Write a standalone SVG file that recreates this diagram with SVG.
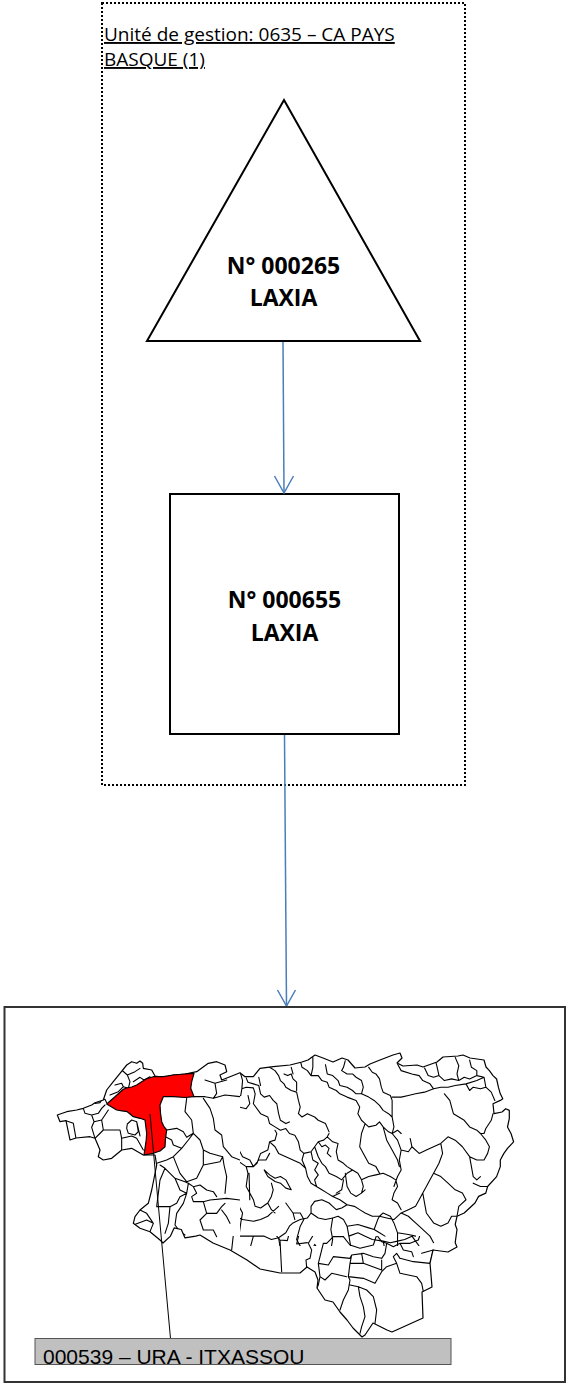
<svg xmlns="http://www.w3.org/2000/svg" width="569" height="1386" viewBox="0 0 569 1386">
<style>
.title{font-family:"Open Sans","Liberation Sans",sans-serif;font-size:19px;fill:#000;text-decoration:underline}
.nt{font-family:"Open Sans","Liberation Sans",sans-serif;font-size:23px;font-weight:bold;fill:#000;text-anchor:middle}
.shape{fill:#fff;stroke:#000;stroke-width:2}
.conn{stroke:#4a7ebb;stroke-width:1.5;fill:none}
.ml{fill:none;stroke:#000;stroke-width:1.1;stroke-linejoin:round;stroke-linecap:round}
.lbl{font-family:"Liberation Sans",Arial,sans-serif;font-size:21px;fill:#000}
</style>
<defs>
<clipPath id="mapclip"><path id="outlineShape" d="M57.3,1115 L66.7,1111.7 L76.7,1110 L83.3,1108.3 L91.7,1105 L95,1102.7 L103.3,1100 L106.7,1090 L113.3,1081.7 L120,1073.3 L126.7,1065 L131.7,1061.7 L136.7,1063.3 L140,1061 L142.7,1063.3 L143.3,1068.3 L151.7,1070 L155,1076 L163.3,1077.3 L173.3,1075 L185,1074 L196.7,1071.7 L208.3,1063.3 L216.7,1061.7 L225,1065 L226.7,1071.7 L220,1075 L221.7,1080 L230,1076.7 L240,1072.7 L245,1076.7 L253.3,1076.7 L260,1068.3 L273.3,1066.7 L290,1065 L302,1062 L308,1060 L315,1055 L323,1058 L333,1062 L342,1058 L348,1060 L355,1068 L365,1067 L370,1064 L380,1060 L393,1055 L400,1053 L402,1058 L397,1063 L403,1066 L417,1065 L423,1067 L437,1062 L443,1057 L458,1056 L463,1055 L470,1058 L484,1060 L486,1067 L489.4,1070.6 L493,1075.6 L496.6,1079 L498.4,1087.2 L500.3,1093.8 L502.8,1098.8 L500.3,1100.4 L493,1103.7 L494,1113.7 L502,1112 L505.7,1108.7 L509.3,1110.4 L509.3,1118.6 L507.5,1127 L511,1133.5 L513.6,1141.8 L507.5,1148.4 L503.9,1153.4 L500.3,1160 L500.3,1166.6 L496.6,1176.6 L487.6,1186.5 L485.8,1193.1 L478.6,1196.4 L475,1203 L469.6,1208 L464.2,1213 L457,1216.3 L455.2,1224.5 L457,1229.5 L455.2,1242.7 L457,1247 L448,1252 L433,1250 L430,1263 L432,1287 L422,1292 L423,1318 L392,1332 L387,1330 L373,1323 L365,1335 L362,1337 L358,1333 L353,1328 L347,1320 L340,1312 L333,1302 L325,1300 L317,1288 L318,1280 L315,1272 L307,1267 L300,1273 L280,1273 L260,1269 L247,1260 L230,1250 L213,1243 L200,1235 L195.7,1236.1 L184.9,1237.8 L181.3,1229.5 L174.1,1227.9 L170.5,1236.1 L163,1243 L160,1240 L150,1231.7 L140,1228.3 L133.3,1223.3 L135,1216.7 L140,1210 L148.3,1203.3 L151.7,1190 L156.7,1165 L155,1155 L143.3,1155 L131.7,1148.3 L121.7,1150 L111.7,1158.3 L103.3,1160 L98.3,1156.7 L100,1150 L95,1138.3 L90,1136.7 L76,1138 L70,1140 L66,1120.7 L60,1121.7 Z"/></clipPath>
<clipPath id="upper"><rect x="240" y="0" width="329" height="1246"/></clipPath>
<clipPath id="lower"><rect x="0" y="1236" width="569" height="150"/></clipPath>
<clipPath id="west"><rect x="0" y="1000" width="240" height="246"/></clipPath>
</defs>
<rect x="0" y="0" width="569" height="1386" fill="#fff"/>

<g id="container">
<rect x="102" y="3" width="363" height="782" fill="none" stroke="#000" stroke-width="2" stroke-dasharray="2,2"/>
<text class="title" x="104" y="41">Unité de gestion: 0635 – CA PAYS</text>
<text class="title" x="104" y="66">BASQUE (1)</text>
</g>

<g id="node-000265">
<polygon class="shape" points="284,100 420,341 147,341"/>
<text class="nt" x="283.5" y="274">N° 000265</text>
<text class="nt" x="283.5" y="306">LAXIA</text>
</g>

<g id="node-000655">
<rect class="shape" x="170" y="494" width="229" height="240"/>
<text class="nt" x="284.5" y="608">N° 000655</text>
<text class="nt" x="284.5" y="641">LAXIA</text>
</g>

<g id="connectors">
<line class="conn" x1="283" y1="342" x2="284" y2="493"/>
<polyline class="conn" points="274.5,476 284,493 293.5,476"/>
<line class="conn" x1="284.5" y1="735" x2="286.5" y2="1006"/>
<polyline class="conn" points="277.5,990 286.5,1006 295.5,990"/>
</g>

<g id="node-map">
<rect x="4.5" y="1007" width="560.5" height="375" fill="#fff" stroke="#333" stroke-width="2"/>
<use href="#outlineShape" fill="#fff" stroke="none"/>
<g clip-path="url(#mapclip)">
<g clip-path="url(#upper)">
<g transform="matrix(0.3604 0 0 0.331 1.1 961.4)">
<path class="ml" vector-effect="non-scaling-stroke" d="
M538,340 L545,350 L560,360 L580,362 L590,372 L590,385 L585,405 L570,410 L535,412
M590,345 L605,350 L620,340 L630,345 L650,338 L665,340 L670,360 L668,385 L665,405 L640,410 L610,415 L590,412
M600,305 L595,330 L590,345
M668,385 L680,380 L700,382 L705,400 L700,430
M680,352 L685,365 L700,370 L715,375 L720,400 L730,410 L745,405 L755,420 L765,430
M715,350 L720,375
M650,420 L660,440 L680,445 L690,430 L685,405
M565,420 L580,445 L590,465 L600,490 L610,520 L615,560 L640,580 L660,570 L670,590 L690,600 L700,620 L710,610 L720,580 L740,570 L745,545 L760,540 L765,520 L760,510
M700,430 L720,460 L740,470 L745,490 L760,500 L775,510 L790,505 L800,520 L815,525 L825,545 L830,570 L840,580 L860,575 L870,560 L880,545 L895,540 L905,530 L910,520
M765,430 L770,460 L775,480 L790,490 L800,485
M745,320 L760,330 L770,345 L775,360 L785,370 L790,380 L805,390 L820,395 L825,420 L830,440 L825,460 L835,470 L850,460 L870,470 L880,480 L900,490 L910,515
M785,340 L795,345 L805,340 L810,355 L820,365 L820,390
M805,320 L810,340
M830,300 L835,320 L850,330 L860,345 L880,345 L890,360 L905,365 L910,380 L930,390 L940,400 L960,410 L985,420 L995,440 L990,460 L1000,480 L1010,490 L1020,500 L1040,495 L1050,485 L1060,500 L1075,515 L1085,520 L1100,510 L1110,520
M865,290 L865,320 L860,345
M900,312 L905,340 L920,345 L935,360 L940,375 L960,380 L975,390 L985,400 L1000,400 L1020,410 L1035,420 L1050,435 L1060,450 L1075,460 L1085,470 L1090,500 L1085,520
M955,300 L950,320 L945,330 L960,340 L975,340 L985,350 L1000,360 L1005,380 L1000,400
M1020,320 L1030,335 L1040,340 L1050,355 L1055,380 L1060,395 L1080,405 L1085,420 L1085,470
M1100,310 L1110,330 L1140,340 L1160,345 L1170,360 L1190,370 L1200,385
M1175,322 L1185,345 L1200,350 L1215,345 L1230,360 L1250,355 L1270,360 L1285,350 L1300,355 L1310,350 L1320,345
M1205,298 L1210,320 L1215,345
M1260,290 L1270,315 L1265,340 L1270,360
M1300,298 L1305,320 L1320,330 L1320,345 L1340,350 L1345,380 L1360,395 L1370,420
M1085,410 L1110,410 L1130,405 L1150,400 L1175,395 L1200,385 L1220,380 L1240,380 L1260,375 L1290,370 L1320,360 L1340,350
M1230,400 L1245,420 L1250,440 L1255,460 L1270,470 L1285,480 L1300,500 L1320,510 L1330,520 L1340,520 L1345,505 L1360,480 L1365,460
M1290,370 L1300,390 L1310,380 L1330,385 L1345,380
M1085,520 L1100,540 L1110,570 L1130,575 L1140,560 L1160,580 L1180,570 L1200,560 L1220,550 L1230,540 L1240,530 L1260,540 L1280,560 L1300,590 L1320,600 L1340,600 L1350,580 L1355,560 L1345,540 L1330,520
M1110,570 L1105,600 L1110,630 L1100,650 L1090,680
M1135,535 L1140,560
M1220,550 L1225,580 L1215,610 L1200,640 L1190,660 L1180,680 L1170,700 L1160,720
M1300,590 L1305,620 L1310,650 L1320,660 L1330,650
M1350,680 L1330,680 L1310,670
M1200,640 L1220,650 L1240,670 L1260,690 L1280,700 L1290,720 L1270,740 L1265,770
M1170,700 L1175,730 L1180,760 L1200,790 L1220,800 L1240,790 L1250,770 L1265,770
M1160,720 L1150,740 L1130,750 L1110,760 L1090,780 L1070,775 L1050,770
M610,580 L630,600 L660,605 L680,620 L685,640 L680,680 L690,700 L700,720 L705,740 L720,745 L740,730 L750,710 L755,690 L750,670
M680,620 L700,620 L715,600 L735,600 L745,580
M745,545 L760,560 L770,580 L790,590 L810,600 L830,610 L845,625 L850,650 L860,670 L875,680 L890,690 L905,700 L920,710 L940,700
M730,630 L745,645 L760,655 L775,650 L790,660 L800,680 L805,690 L790,685 L775,670 L760,665 L740,650 Z
M688,640 L690,720
M840,580 L835,600 L845,625
M870,560 L880,590 L890,610 L900,620 L910,640 L930,650 L945,660 L960,640 L975,630 L990,640 L1000,660 L1005,680 L1000,700
M905,530 L920,545 L935,550 L930,575 L935,600 L950,610 L960,620 L975,630
M880,545 L890,560 L900,555 L910,565 L905,580 L915,590
M860,575 L865,600 L880,610 L870,630 L880,645 L870,660 L875,680
M1000,660 L1020,650 L1040,645 L1060,640 L1080,650 L1095,660 L1100,680 L1090,700 L1085,720 L1100,730 L1110,750
M1010,490 L1000,520 L995,560 L1010,590 L1020,610 L1040,620 L1050,640
M1060,500 L1070,540 L1085,570 L1100,600 L1105,620
M955,640 L960,680 L970,700 L985,710
M920,710 L940,720 L960,735 L980,740 L995,750 L1010,760 L1030,770 L1050,770 L1060,760 L1080,770
M950,660 L945,690 L930,700
M985,710 L1000,700 L1010,690
M500,680 L520,690 L540,680 L555,670 L570,680 L580,700 L600,710 L620,720 L640,730 L660,740 L670,760 L665,790 L660,830 L655,860 L640,870
M530,700 L540,720 L545,700 L560,690
M520,720 L540,720 L560,730 L570,760 L580,800 L575,840 L580,855
M490,800 L520,795 L540,790 L570,780
M600,710 L610,690 L620,670 L615,650 L605,640 L590,620
M620,720 L625,750 L620,760 L640,770 L660,775 L670,780 L700,785 L720,780 L740,770 L750,760 L760,750 L770,740
M740,730 L750,750 L760,760
M660,830 L700,830 L730,830 L750,840 L770,835 L790,820 L800,800 L810,790 L830,780 L850,775
M770,835 L775,870 L780,900 L770,940
M700,830 L690,870 L680,895
M790,730 L800,745 L810,760 L830,760 L840,780 L830,800 L825,820 L820,840 L830,860 L845,870 L860,880 L860,900 L855,920 L860,945
M810,760 L815,780
M850,775 L860,760 L860,740 L870,725 L890,720 L910,730 L920,740 L930,750 L945,745 L960,735
M860,760 L880,775 L900,780 L920,775 L935,770 L950,780 L960,800 L965,830 L970,860
M920,775 L915,810 L920,840 L915,870 L900,880 L880,870 L870,855 L860,880
M880,870 L885,900 L880,920 L895,940 L910,930 L930,920 L950,915 L965,910 L975,900
M965,830 L990,820 L1010,830 L1030,840 L1060,845 L1080,850 L1100,845 L1120,840 L1140,830 L1150,845 L1160,860 L1170,870 L1190,880
M960,800 L990,795 L1020,805 L1035,810 L1050,820 L1065,830
M1035,810 L1045,780 L1050,770
M1080,770 L1090,790 L1100,820 L1100,845
M1100,820 L1130,825 L1150,830
M1110,760 L1130,770 L1150,790 L1160,800 L1175,815 L1190,830 L1200,850
M1100,870 L1110,900 L1130,915 L1150,925 L1160,940 L1170,960
M1100,845 L1100,900 L1105,930 L1110,960
M1000,870 L1020,880 L1040,900 L1060,920
M1060,845 L1065,870 L1060,900
"/>
</g>
</g>
<g clip-path="url(#west)">
<g transform="translate(40 1050) scale(0.33333)">
<path class="ml" vector-effect="non-scaling-stroke" d="
M78,212 L100,220 L108,265
M130,175 L135,190 L155,195 L162,215 L155,232 L165,265
M165,160 L180,158 L185,150 L195,148 L200,158
M155,195 L175,190 L185,175 L195,165
M162,215 L185,210 L195,195 L205,180
M185,210 L190,240 L240,240 L245,265 L245,300
M190,240 L175,255 L165,265
M210,135 L235,125 L250,110 L265,115
M225,105 L245,100 L250,110
M245,60 L262,75 L270,95 L265,115
M262,75 L285,65 L300,55
M280,95 L300,82 L312,90 L330,80
M262,222 L275,210 L290,215 L295,245 L285,255 L265,250 L260,235 Z
M245,265 L275,258 L290,265 L310,300
M290,215 L300,258
M462,140 L495,140 L520,145 L555,135 L600,140
M495,90 L525,100 L530,130 L520,145
M525,100 L560,90
M490,145 L510,175 L520,205 L525,240 L545,255 L550,290 L575,320
M440,145 L435,185 L455,210 L460,250
M380,240 L410,235 L430,245 L440,262 L460,250
M372,258 L395,270 L400,285 L425,295 L445,270 L460,250 L480,270 L490,300 L510,310 L548,320
M425,295 L400,320 L380,330 L350,340
M400,320 L420,370 L440,395 L470,385 L490,345 L490,300
M490,345 L540,335 L548,320
M548,320 L552,345 L560,380 L555,430
M575,320 L600,330
M360,345 L375,355 L405,385 L420,420 L440,430
M375,355 L360,390 L355,430 L350,470
M405,385 L435,395 L445,400 L440,430
M350,470 L390,470 L410,460 L420,440 L440,430
M390,470 L385,520 L375,550
M300,480 L320,490 L340,520 L330,545
M280,525 L320,510 L340,520
M445,400 L460,410 L470,430 L455,440 L460,455 L490,455 L510,450 L560,445 L600,450
M460,410 L480,405 L500,420 L520,425 L530,440
M490,455 L500,490 L480,510 L490,540 L520,540 L530,560
M440,430 L430,460 L410,490 L405,525 L420,545 L435,555
M500,490 L530,490 L545,470 L555,460
M545,480 L560,500 L570,520
"/>
</g>
</g>
<g clip-path="url(#lower)">
<g transform="translate(200 1230) scale(0.33333)">
<path class="ml" vector-effect="non-scaling-stroke" d="
M100,15 L95,60
M215,0 L240,30 L245,125
M240,30 L262,32 L270,0
M300,0 L290,42 L322,38
M320,112 L318,90 L330,85 L335,60 L325,40 L340,15 L330,0
M370,40 L380,40 L400,20 L405,0
M370,40 L355,100
M355,100 L385,105 L400,80 L450,85 L455,75 L490,70 L520,80 L545,85 L555,70 L560,40
M430,20 L450,45 L480,55 L520,45 L530,15 L520,0
M430,20 L400,20
M455,75 L450,100 L445,140 L450,150
M450,100 L490,100 L485,70
M490,100 L545,120 L545,90
M355,100 L360,140 L375,150 L395,130 L440,140
M360,140 L355,165 L350,175
M445,140 L490,145 L525,160 L545,125
M450,150 L445,180 L430,210 L420,240
M450,165 L475,170 L500,180 L520,200 L530,240 L525,280
M475,170 L480,200 L490,230 L495,260 L485,290 L480,310
M545,125 L560,110 L590,100 L600,130 L650,140 L665,160 L670,185
M590,100 L580,80 L590,70 L600,85
M600,85 L640,95 L690,100
M560,40 L580,50 L600,40 L630,40 L655,30 L660,15
M530,15 L545,35 L560,40
M600,40 L610,60 L635,65 L640,80
M665,70 L700,60
M690,100 L700,60
"/>
</g>
</g>
</g>
<use href="#outlineShape" fill="none" stroke="#000" stroke-width="1.2" stroke-linejoin="round"/>
<path d="M106.7,1104 L115,1096.7 L123.3,1089.3 L126.7,1088 L131.7,1087 L136.7,1085 L141.7,1081.7 L146.7,1078.7 L153.3,1076.7 L163.3,1076.7 L173.3,1075 L185,1074 L194,1073.3 L191.7,1081.7 L190.7,1088.3 L194,1096.7 L185,1097.5 L173.3,1096.7 L163.3,1096.7 L160,1105 L160.5,1113 L161.7,1121.7 L164,1126.7 L166.7,1130 L165.5,1138.3 L165,1146.7 L160,1151 L153.3,1153.3 L144,1155 L145,1148.3 L146.2,1140 L146.7,1133.3 L145,1120 L140,1118.3 L133.3,1116.7 L127.3,1111.7 L122,1110.8 L116.7,1110 L108.3,1105 Z" fill="#ff0000" stroke="#000" stroke-width="1.2" stroke-linejoin="round"/>
<line x1="150" y1="1114" x2="170.5" y2="1338.5" stroke="#000" stroke-width="1"/>
<rect x="35" y="1338.5" width="416" height="26" fill="#c0c0c0" stroke="#555" stroke-width="1"/>
<text class="lbl" x="43" y="1363.5">000539 – URA - ITXASSOU</text>
</g>
</svg>
